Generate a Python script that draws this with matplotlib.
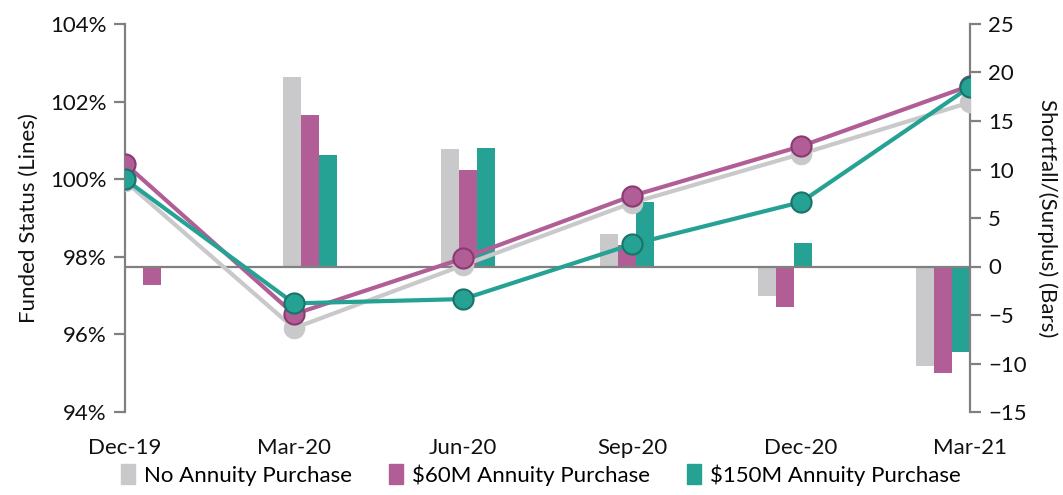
import matplotlib
matplotlib.use("Agg")
import matplotlib.pyplot as plt
import numpy as np
from matplotlib.patches import Patch
from matplotlib.ticker import FuncFormatter

plt.rcParams['font.family'] = ['Lato', 'DejaVu Sans']

categories = ["Dec-19", "Mar-20", "Jun-20", "Sep-20", "Dec-20", "Mar-21"]
series_names = ["No Annuity Purchase", "$60M Annuity Purchase", "$150M Annuity Purchase"]

# Funded status (lines, %)
fs_none = [99.95, 96.16, 97.78, 99.39, 100.65, 101.98]
fs_60 = [100.40, 96.52, 97.96, 99.57, 100.85, 102.41]
fs_150 = [100.00, 96.80, 96.91, 98.32, 99.41, 102.38]

# Shortfall/(Surplus) (bars)
bar_none = [0.0, 19.5, 12.1, 3.3, -3.0, -10.3]
bar_60 = [-1.9, 15.6, 9.9, 2.2, -4.2, -11.0]
bar_150 = [0.0, 11.5, 12.2, 6.7, 2.4, -8.8]

left_ticks = [94, 96, 98, 100, 102, 104]
right_ticks = [-15, -10, -5, 0, 5, 10, 15, 20, 25]

GRAY = "#c9c9cb"
MAG = "#b15e97"
TEAL = "#26a294"
MAG_E = "#8b3a70"
TEAL_E = "#1b7268"
SPINE = "#808080"
TXT = "#111111"
FS = 16

W, H = 1063, 495
fig = plt.figure(figsize=(W / 100, H / 100), dpi=100)
ax = fig.add_axes([125 / W, 1 - 412 / H, (970 - 125) / W, (412 - 24) / H])
ax2 = ax.twinx()

n = len(categories)
x = np.arange(n)
bw = 0.1065
gw = 3 * bw
centers = np.linspace(gw / 2, (n - 1) - gw / 2, n)

for i, (vals, col) in enumerate([(bar_none, GRAY), (bar_60, MAG), (bar_150, TEAL)]):
    ax2.bar(centers + (i - 1) * bw, vals, width=bw, color=col, zorder=2)
ax2.axhline(0, color=SPINE, lw=1.6, zorder=3)

ms = 14.5
ax.plot(x, fs_none, color=GRAY, lw=3, marker='o', ms=ms, mec=GRAY, mfc=GRAY, zorder=3)
ax.plot(x, fs_60, color=MAG, lw=3, marker='o', ms=ms, mec=MAG_E, mew=1.5, mfc=MAG, zorder=4)
ax.plot(x, fs_150, color=TEAL, lw=3, marker='o', ms=ms, mec=TEAL_E, mew=1.5, mfc=TEAL, zorder=5)

ax.set_zorder(ax2.get_zorder() + 1)
ax.patch.set_visible(False)

ax.set_xlim(0, n - 1)
ax.set_ylim(94, 104)
ax2.set_ylim(-15, 25)
ax.set_yticks(left_ticks)
ax.yaxis.set_major_formatter(FuncFormatter(lambda v, p: f"{v:.0f}%"))
ax2.set_yticks(right_ticks)
ax.set_xticks(x)
ax.set_xticklabels(categories)

for a in (ax, ax2):
    for s in ("top", "bottom"):
        a.spines[s].set_visible(False)
    a.spines["left"].set_color(SPINE)
    a.spines["right"].set_color(SPINE)
    a.spines["left"].set_linewidth(1.6)
    a.spines["right"].set_linewidth(1.6)
ax.spines["right"].set_visible(False)
ax2.spines["left"].set_visible(False)

ax.tick_params(axis='y', length=8, width=1.6, color=SPINE, labelsize=FS, pad=5, labelcolor=TXT)
ax2.tick_params(axis='y', length=8, width=1.6, color=SPINE, labelsize=FS, pad=5, labelcolor=TXT)
ax.tick_params(axis='x', length=0, labelsize=FS, pad=19, labelcolor=TXT)

ax.set_ylabel("Funded Status (Lines)", fontsize=FS, labelpad=8, color=TXT)
ax2.set_ylabel("Shortfall/(Surplus) (Bars)", fontsize=FS, rotation=270, labelpad=22, color=TXT)

handles = [Patch(color=c) for c in (GRAY, MAG, TEAL)]
fig.legend(handles, series_names, loc='lower center', bbox_to_anchor=(0.509, -0.022), ncol=3,
           frameon=False, fontsize=FS, handlelength=0.65, handleheight=1.0, handletextpad=0.4,
           columnspacing=1.65)

fig.savefig("out.png", dpi=100)
